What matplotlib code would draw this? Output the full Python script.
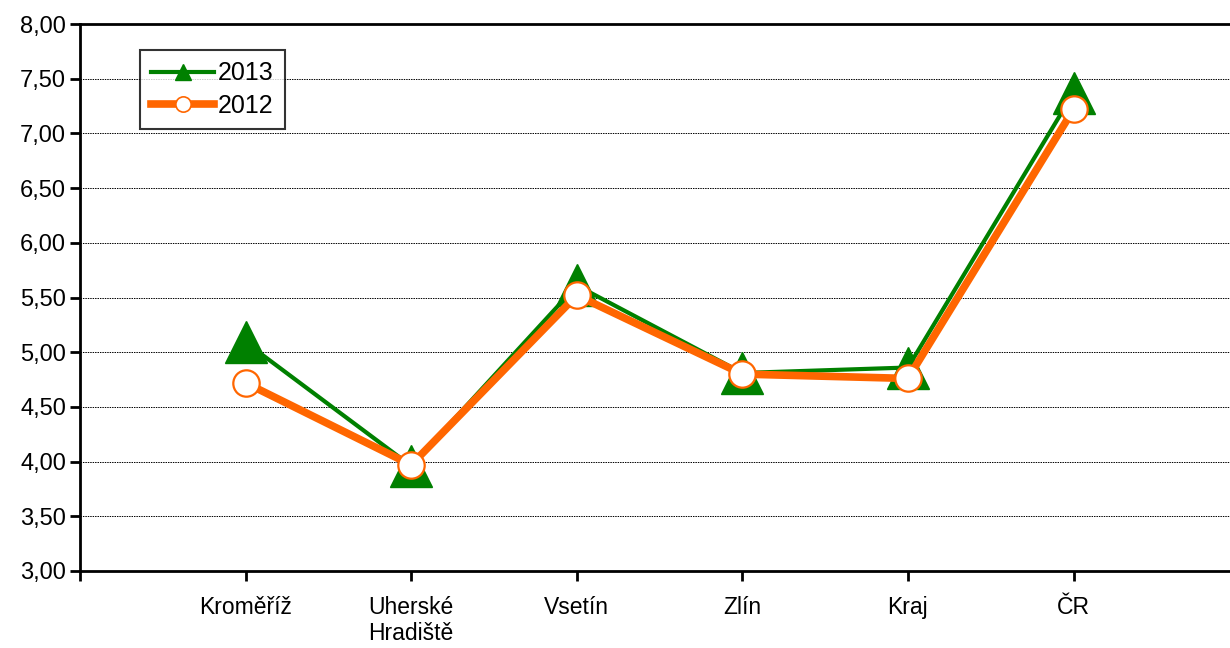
import matplotlib
matplotlib.use("Agg")
import matplotlib.pyplot as plt
from matplotlib.lines import Line2D

categories = ["Kroměříž", "Uherské\nHradiště", "Vsetín", "Zlín", "Kraj", "ČR"]
values_2013 = [5.09, 3.96, 5.61, 4.81, 4.86, 7.37]
values_2012 = [4.72, 3.97, 5.52, 4.80, 4.76, 7.22]
yticks = [3.0, 3.5, 4.0, 4.5, 5.0, 5.5, 6.0, 6.5, 7.0, 7.5, 8.0]

plt.rcParams['font.family'] = ['Liberation Sans', 'DejaVu Sans']

W, H = 1230, 648
fig = plt.figure(figsize=(W/100, H/100), dpi=100)
ax = fig.add_axes([80/W, (H-571)/H, (1230-80)/W, (571-24)/H])

x = list(range(1, len(categories)+1))
green = "#008000"
orange = "#FF6600"

ax.plot(x, values_2013, color=green, lw=3.0, marker="^", markersize=30,
        markerfacecolor=green, markeredgecolor=green, zorder=3, clip_on=False)
ax.plot(x, values_2012, color=orange, lw=5.5, marker="o", markersize=19,
        markerfacecolor="white", markeredgecolor=orange, markeredgewidth=1.6,
        zorder=4, clip_on=False)

ax.set_xlim(0, 6.945)
ax.set_ylim(3.0, 8.0)
ax.set_yticks(yticks)
ax.set_yticklabels([f"{v:.2f}".replace(".", ",") for v in yticks], fontsize=17)
ax.set_xticks(range(0, 7))
ax.set_xticklabels([""] + categories, fontsize=16.5, linespacing=1.15)
ax.tick_params(axis="x", direction="out", length=7, width=2, pad=11)
ax.tick_params(axis="y", direction="out", length=7, width=2, pad=3)

ax.grid(axis="y", color="black", linestyle=(0, (1.5, 1)), linewidth=0.7)
ax.set_axisbelow(True)
for s in ["left", "bottom", "top"]:
    ax.spines[s].set_linewidth(2)
ax.spines["right"].set_visible(False)

handles = [
    Line2D([], [], color=green, lw=3, marker="^", markersize=11,
           markerfacecolor=green, markeredgecolor=green),
    Line2D([], [], color=orange, lw=5.5, marker="o", markersize=11,
           markerfacecolor="white", markeredgecolor=orange, markeredgewidth=1.2),
]
leg = ax.legend(handles, ["2013", "2012"], loc="upper left",
                bbox_to_anchor=((140-80)/1150, 1-(50-24)/547),
                fontsize=18, frameon=True, fancybox=False, edgecolor="black",
                handlelength=2.5, handletextpad=0.15, borderpad=0.45,
                labelspacing=0.35, borderaxespad=0)
leg.get_frame().set_linewidth(1.5)

fig.savefig("out.png", dpi=100)
